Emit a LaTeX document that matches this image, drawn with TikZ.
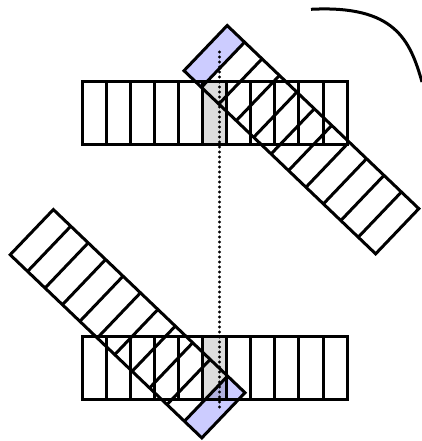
\documentclass[tikz,border=0pt]{standalone}
\usetikzlibrary{calc}
\definecolor{pblue}{HTML}{CCCCFF}
\definecolor{pgrey}{HTML}{DDDDDD}
\tikzset{
  cellline/.style={line width=3pt,line join=miter},
  dotline/.style={line width=3.2pt,line cap=round,dash pattern=on 0pt off 5pt},
  rowA/.style={shift={(82,-144)}},
  rowB/.style={shift={(82,-399)}},
  slantA/.style={shift={(184,-70.7)},rotate=-43.7},
  slantB/.style={shift={(245,-392.7)},rotate=136.3},
}
\newcommand{\cw}{24.1}
\newcommand{\ch}{62.5}
% eleven cells in a row, local frame
\newcommand{\cellrow}{%
  \draw[cellline] (0,0) rectangle ({11*\cw},\ch);
  \foreach \i in {1,...,10} \draw[cellline] ({\i*\cw},0) -- ({\i*\cw},\ch);
}
\newcommand{\markcell}[2]{\fill[#2] ({#1*\cw},0) rectangle ({(#1+1)*\cw},\ch);}

\begin{document}
\begin{tikzpicture}[x=1pt,y=1pt]
\useasboundingbox (0,0) rectangle (422,-441);
% marked cells
\begin{scope}[blend mode=multiply]
  \begin{scope}[rowA] \markcell{5}{pgrey} \end{scope}
  \begin{scope}[rowB] \markcell{5}{pgrey} \end{scope}
  \begin{scope}[slantA] \markcell{0}{pblue} \end{scope}
  \begin{scope}[slantB] \markcell{0}{pblue} \end{scope}
\end{scope}
% the four rows
\begin{scope}[rowA] \cellrow \end{scope}
\begin{scope}[rowB] \cellrow \end{scope}
\begin{scope}[slantA] \cellrow \end{scope}
\begin{scope}[slantB] \cellrow \end{scope}
% axis
\coordinate (axtop) at (219.5,-52);
\coordinate (axbot) at (219.5,-408);
\draw[dotline] (axtop) -- (axbot);
% arc
\draw[line width=3pt] (311,-9.3) .. controls (395,-5) and (410,-40) .. (422,-82);
\end{tikzpicture}
\end{document}
